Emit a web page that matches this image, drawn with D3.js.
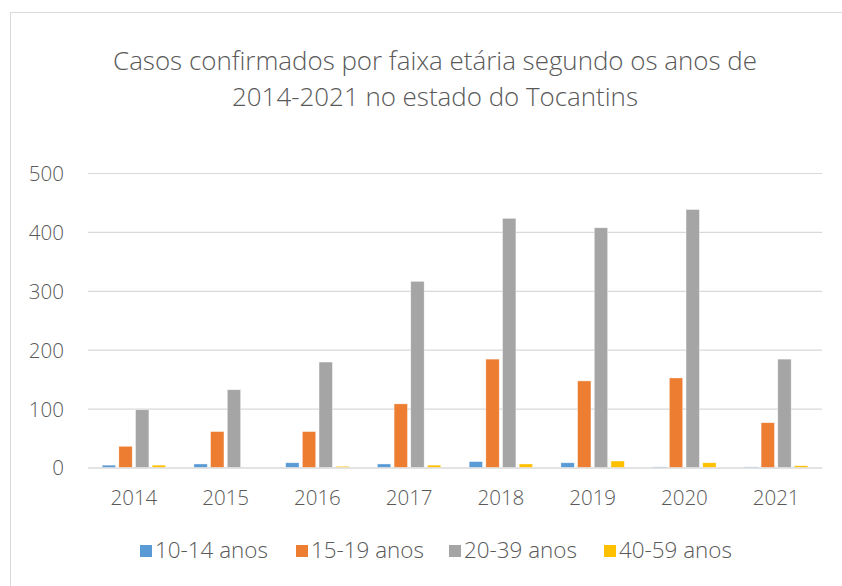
<!DOCTYPE html>
<html>
<head>
<meta charset="utf-8">
<script src="https://cdn.jsdelivr.net/npm/d3@7"></script>
<style>
  html, body { margin: 0; padding: 0; background: #fff; }
  svg { display: block; }
  text { font-family: "Open Sans", "Noto Sans", sans-serif; font-weight: 300; fill: #595959; }
</style>
</head>
<body>
<svg id="chart" width="842" height="586"></svg>
<script>
const titleLines = ["Casos confirmados por faixa etária segundo os anos de", "2014-2021 no estado do Tocantins"];
const years = ["2014", "2015", "2016", "2017", "2018", "2019", "2020", "2021"];
const seriesNames = ["10-14 anos", "15-19 anos", "20-39 anos", "40-59 anos"];
const seriesColors = ["#5B9BD5", "#ED7D31", "#A5A5A5", "#FFC000"];
const v10_14 = [4, 6, 8, 6, 10, 8, 1, 1];
const v15_19 = [36, 61, 61, 108, 184, 147, 152, 76];
const v20_39 = [98, 132, 179, 316, 423, 407, 438, 184];
const v40_59 = [4, 0, 2, 4, 6, 11, 8, 3];
const yTicks = [0, 100, 200, 300, 400, 500];

const seriesValues = [v10_14, v15_19, v20_39, v40_59];
const data = years.map((y, i) => ({ year: y, values: seriesValues.map((s, k) => ({ key: seriesNames[k], value: s[i] })) }));

const svg = d3.select("#chart");

// chart border
svg.append("rect").attr("x", 10.5).attr("y", 12.5).attr("width", 900).attr("height", 900)
  .attr("fill", "none").attr("stroke", "#d9d9d9").attr("stroke-width", 1);

const plot = { left: 88, right: 822, top: 173, bottom: 467.5 };

function fitSize(sel, targetWidth, base) {
  sel.style("font-size", base + "px");
  const w = sel.node().getComputedTextLength();
  const s = base * targetWidth / w;
  sel.style("font-size", s + "px");
  return s;
}

// title
const t1 = svg.append("text").attr("x", 435).attr("y", 70).attr("text-anchor", "middle").text(titleLines[0]);
const ts = fitSize(t1, 644, 24);
svg.append("text").attr("x", 435).attr("y", 106).attr("text-anchor", "middle")
  .style("font-size", ts + "px").text(titleLines[1]);

const y = d3.scaleLinear().domain([0, 500]).range([plot.bottom, plot.top]);
const x0 = d3.scaleBand().domain(years).range([plot.left, plot.right]).paddingInner(0.309).paddingOuter(0.1545);
const x1 = d3.scaleBand().domain(seriesNames).range([0, x0.bandwidth()]).paddingInner(0.2).paddingOuter(0);
const color = d3.scaleOrdinal().domain(seriesNames).range(seriesColors);

// gridlines
const yAxis = d3.axisLeft(y).tickValues(yTicks).tickSize(-(plot.right - plot.left)).tickPadding(24).tickFormat(d3.format("d"));
const gy = svg.append("g").attr("transform", `translate(${plot.left},0)`).call(yAxis);
gy.select(".domain").remove();
gy.selectAll(".tick line").attr("stroke", "#d9d9d9").attr("stroke-width", 1.2);
gy.selectAll(".tick text").attr("fill", "#595959").style("font-family", "\"Open Sans\", sans-serif").style("font-weight", 300);
// fit tick font
const probe = svg.append("text").text("2014");
const tickSize = fitSize(probe, 47, 18);
probe.remove();
gy.selectAll(".tick text").style("font-size", tickSize + "px").attr("dy", "0.36em");

// bars
const groups = svg.append("g").selectAll("g").data(data).join("g")
  .attr("transform", d => `translate(${x0(d.year)},0)`);
groups.selectAll("rect").data(d => d.values).join("rect")
  .attr("x", d => x1(d.key))
  .attr("width", x1.bandwidth())
  .attr("y", d => y(d.value))
  .attr("height", d => y(0) - y(d.value))
  .attr("fill", d => color(d.key))
  .attr("stroke", "#ffffff").attr("stroke-width", 0.6).attr("stroke-opacity", 0.6);

// x axis
const xAxis = d3.axisBottom(x0).tickSize(0).tickPadding(24);
const gx = svg.append("g").attr("transform", `translate(0,${plot.bottom})`).call(xAxis);
gx.select(".domain").attr("stroke", "#d9d9d9").attr("stroke-width", 1.2);
gx.selectAll(".tick text").attr("fill", "#595959").style("font-size", tickSize + "px")
  .style("font-family", "\"Open Sans\", sans-serif").style("font-weight", 300).attr("y", 0).attr("dy", "37.5px");

// legend
const legendX = [140, 296, 449, 604];
const probe2 = svg.append("text").text(seriesNames[0]);
const legSize = fitSize(probe2, 113, 18);
probe2.remove();
const legend = svg.append("g").selectAll("g").data(seriesNames).join("g")
  .attr("transform", (d, i) => `translate(${legendX[i]},545)`);
legend.append("rect").attr("width", 12).attr("height", 12).attr("fill", d => color(d));
legend.append("text").attr("x", 15).attr("y", 13).text(d => d)
  .style("font-size", legSize + "px");
</script>
</body>
</html>
